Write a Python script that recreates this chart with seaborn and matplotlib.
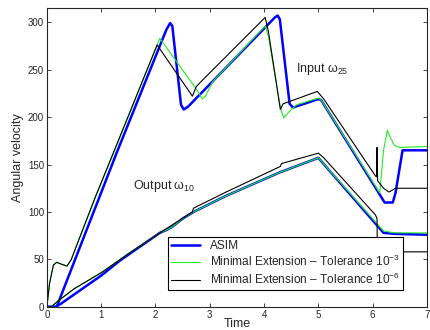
import matplotlib
matplotlib.use("Agg")
import matplotlib.pyplot as plt
import seaborn as sns
import pandas as pd

# ── Data ───────────────────────────────────────────────────
# input shaft omega_25
t_in_asim = [0.0, 0.18, 1.29, 2.2, 2.27, 2.31, 2.47, 2.52, 2.6, 4.2, 4.25, 4.29,
             4.47, 4.53, 5.0, 5.05, 6.22, 6.37, 6.42, 6.55, 7.0]
w_in_asim = [0, 0, 163, 292, 299, 296, 213, 208, 211, 305, 307, 303,
             214, 210, 219, 218, 110, 110, 120, 165, 165]

t_in_tol3 = [0.0, 0.05, 0.12, 0.18, 0.27, 0.37, 0.45, 0.55, 0.9, 1.25, 2.08,
             2.77, 2.86, 2.92, 3.05, 4.02, 4.08, 4.3, 4.36, 4.45, 4.6, 5.0,
             5.05, 6.13, 6.2, 6.27, 6.33, 6.4, 6.5, 7.0]
w_in_tol3 = [0, 25, 44, 47, 45, 43, 50, 65, 116, 165, 283,
             228, 219, 222, 237, 296, 285, 210, 199, 205, 213, 220,
             218, 120, 165, 186, 178, 170, 168, 169]

t_in_tol6 = [0.0, 0.05, 0.12, 0.18, 0.27, 0.37, 0.45, 0.55, 0.9, 1.25, 2.03,
             2.68, 2.75, 2.85, 4.02, 4.08, 4.3, 4.35, 4.98, 5.1, 6.05, 6.07,
             6.08, 6.09, 6.2, 6.3, 6.42, 7.0]
w_in_tol6 = [0, 25, 44, 47, 45, 43, 50, 65, 117, 166, 276,
             222, 232, 238, 305, 290, 208, 214, 227, 219, 138, 137,
             168, 133, 125, 121, 125, 125]

# output shaft omega_10
t_out_asim = [0.0, 0.15, 0.25, 0.5, 1.0, 1.35, 2.08, 2.2, 2.3, 2.5, 2.7,
              3.3, 4.3, 5.0, 6.2, 6.4, 7.0]
w_out_asim = [0, 0, 3, 13, 33, 49, 78, 81, 84, 93, 100,
              117, 142, 157, 78, 77, 76]

t_out_tol3 = [0.0, 0.08, 0.2, 0.5, 1.0, 1.5, 2.08, 2.2, 2.3, 2.5, 2.7,
              3.3, 4.3, 5.0, 6.2, 6.4, 7.0]
w_out_tol3 = [0, 0, 6, 19, 36, 56, 78, 81, 84, 93, 100,
              117, 142, 157, 80, 78, 78]

t_out_tol6 = [0.0, 0.08, 0.2, 0.5, 1.0, 1.5, 2.08, 2.68, 2.7, 3.3, 4.3,
              4.32, 5.0, 5.1, 6.05, 6.08, 6.085, 7.0]
w_out_tol6 = [0, 0, 6, 19, 36, 56, 78, 100, 104, 121, 148,
              151, 162, 157, 97, 93, 58, 58]

labels = ["ASIM",
          r"Minimal Extension – Tolerance 10$^{-3}$",
          r"Minimal Extension – Tolerance 10$^{-6}$"]

# ── Style ──────────────────────────────────────────────────
sns.set_theme(style="ticks")
plt.rcParams.update({
    "font.family": ["Liberation Sans", "DejaVu Sans"],
    "mathtext.fontset": "custom",
    "mathtext.rm": "Liberation Sans",
    "mathtext.it": "Liberation Sans",
    "xtick.direction": "in",
    "ytick.direction": "in",
    "xtick.top": True,
    "ytick.right": True,
    "xtick.labelsize": 7,
    "ytick.labelsize": 7,
    "axes.linewidth": 0.8,
})
COLORS = ["#0000ff", "#22ee22", "#000000"]
WIDTHS = [1.8, 0.8, 0.8]

fig = plt.figure(figsize=(4.3, 3.3), dpi=100)
ax = fig.add_axes([0.109, 0.070, 0.884, 0.906])

series = [
    (t_in_asim, w_in_asim, t_out_asim, w_out_asim),
    (t_in_tol3, w_in_tol3, t_out_tol3, w_out_tol3),
    (t_in_tol6, w_in_tol6, t_out_tol6, w_out_tol6),
]
for i, (ti, wi, to, wo) in enumerate(series):
    df_in = pd.DataFrame({"t": ti, "w": wi})
    df_out = pd.DataFrame({"t": to, "w": wo})
    sns.lineplot(data=df_in, x="t", y="w", ax=ax, color=COLORS[i],
                 linewidth=WIDTHS[i], sort=False, estimator=None, label=labels[i])
    sns.lineplot(data=df_out, x="t", y="w", ax=ax, color=COLORS[i],
                 linewidth=WIDTHS[i], sort=False, estimator=None)

ax.set_xlim(0, 7)
ax.set_ylim(0, 315)
ax.set_xticks(range(0, 8))
ax.set_yticks(range(0, 301, 50))
ax.tick_params(length=3, width=0.6, pad=2)
ax.set_xlabel("Time", fontsize=9, labelpad=-1)
ax.set_ylabel("Angular velocity", fontsize=9, labelpad=3)

ax.text(4.59, 247, r"Input $\omega_{25}$", fontsize=9)
ax.text(1.59, 124, r"Output $\omega_{10}$", fontsize=9)

leg = ax.legend(loc="lower right", bbox_to_anchor=(0.937, 0.057), fontsize=8.6,
                frameon=True, fancybox=False, edgecolor="black",
                framealpha=1, borderpad=0.25, labelspacing=0.2,
                handlelength=2.5, borderaxespad=0)
leg.get_frame().set_linewidth(0.8)

fig.savefig("out.png", dpi=100)
